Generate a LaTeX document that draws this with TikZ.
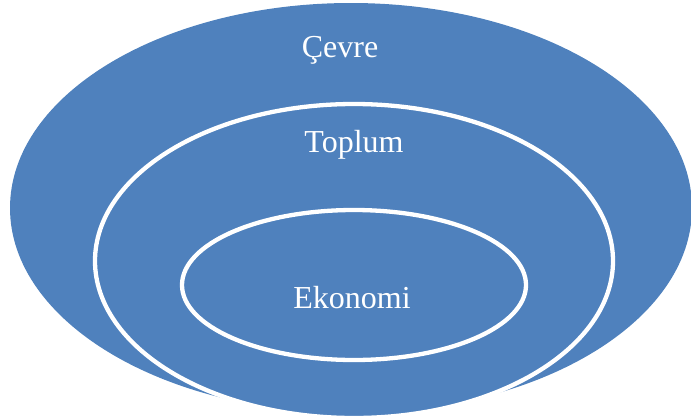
\documentclass[tikz,border=0pt]{standalone}
\usepackage{fontspec}
\setmainfont{Liberation Serif}
\usetikzlibrary{shapes.geometric}
\definecolor{ofblue}{HTML}{4F81BD}
\begin{document}
\begin{tikzpicture}[x=1pt,y=-1pt,
  ring/.style={ellipse, fill=ofblue, inner sep=0pt, outer sep=0pt},
  inring/.style={ring, draw=white, line width=4.3pt},
  lbl/.style={text=white, font=\fontsize{32}{37}\selectfont, anchor=base, inner sep=0pt}]
\useasboundingbox (0,0) rectangle (691,416);
\node[ring, minimum width=682pt, minimum height=410pt] (cevre) at (351,208) {};
\node[inring, minimum width=518pt, minimum height=314pt] (toplum) at (354,261) {};
\node[inring, minimum width=344pt, minimum height=150pt] (ekonomi) at (354,285) {};
\node[lbl] (tcevre) at (340,57) {Çevre};
\node[lbl] (ttoplum) at (354,152) {Toplum};
\node[lbl] (tekonomi) at (352,308) {Ekonomi};
\end{tikzpicture}
\end{document}
